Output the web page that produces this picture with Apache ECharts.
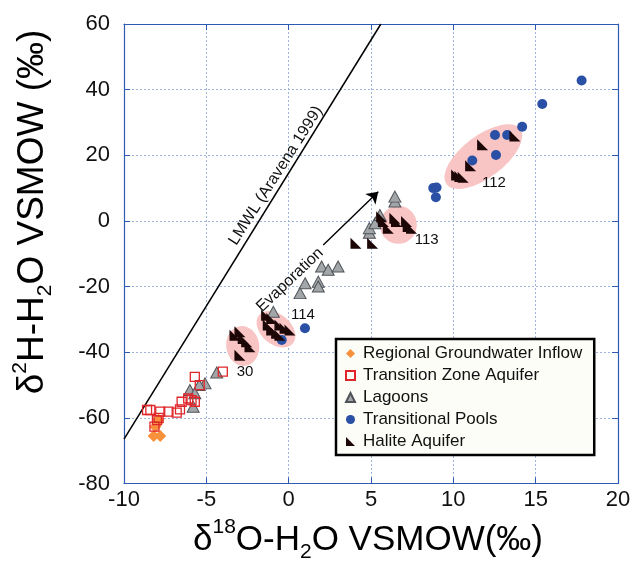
<!DOCTYPE html>
<html>
<head>
<meta charset="utf-8">
<script src="https://cdn.jsdelivr.net/npm/echarts@6/dist/echarts.min.js"></script>
<style>
  html, body { margin: 0; padding: 0; background: #fff; }
  #chart { width: 635px; height: 567px; }
</style>
</head>
<body>
<div id="chart"></div>
<script>
// values, [d18O, d2H]
var regionalInflow = [[-8.2, -65.5], [-7.8, -65.5], [-7.9, -60.5], [-8.1, -62.7], [-7.95, -61.5]];
var transitionZone = [
  [-5.7, -47.5], [-5.4, -50.0], [-4.0, -45.9], [-8.4, -57.6], [-8.6, -57.6],
  [-7.8, -58.1], [-7.3, -58.1], [-6.8, -58.4], [-6.6, -57.4], [-6.5, -55.1],
  [-6.1, -54.1], [-5.7, -55.1], [-5.9, -54.6], [-8.0, -60.7], [-8.15, -62.7], [-7.9, -60.0]
];
var lagoons = [
  [-4.37, -46.2], [-5.08, -49.5], [-5.43, -50.0], [-6.0, -51.5], [-5.7, -52.5], [-5.8, -56.6],
  [-0.93, -27.7], [0.69, -22.0], [1.0, -19.0], [1.8, -18.5], [1.8, -20.0],
  [2.0, -13.9], [2.4, -14.9], [3.0, -13.9],
  [4.9, -3.6], [4.9, -2.2], [5.24, -0.7], [5.54, 1.8], [6.45, 5.9], [6.45, 7.4]
];
var transitionalPools = [
  [-0.42, -36.3], [0.99, -32.7], [8.78, 10.0], [8.98, 10.2], [8.94, 7.2],
  [11.15, 18.4], [12.59, 20.1], [12.53, 26.2], [13.27, 26.2], [14.18, 28.7],
  [15.4, 35.6], [17.79, 42.8]
];
var haliteAquifer = [
  [-3.26, -34.8], [-2.96, -33.8], [-2.76, -35.8], [-2.55, -36.8], [-2.35, -38.3], [-2.96, -40.9],
  [-1.34, -28.7], [-1.03, -29.7], [-1.24, -31.7], [-1.03, -33.2], [-0.53, -31.7],
  [-0.22, -32.7], [0.08, -33.2], [-0.73, -34.2], [-0.53, -34.8],
  [4.09, -6.8], [5.1, -6.8],
  [5.65, 1.3], [5.75, -0.2], [6.05, -2.2], [6.45, 0.8], [6.55, -0.2], [7.16, -0.2], [7.26, -1.7], [7.46, -2.2],
  [10.2, 14.0], [10.4, 13.5], [10.6, 13.3], [11.05, 16.8], [11.78, 23.2], [13.74, 25.9]
];
var lmwl = [[-10, -66.5], [5.6, 60]];
var evaporation = [[2.1, -7.3], [5.44, 8.9]];
var clusterNames = ['30', '114', '113', '112'];
var clusterCentres = [[-2.79, -38.1], [-0.77, -33.0], [6.66, -1.2], [11.82, 19.6]];
var clusterLabelAt = [[-2.65, -45.9], [0.87, -28.7], [8.38, -5.8], [12.47, 11.6]];
var xTicks = { min: -10, max: 20, step: 5 };
var yTicks = { min: -80, max: 60, step: 20 };

var FONT = 'Liberation Sans, Arial, sans-serif';
var AXIS_BLUE = '#2d5bb3';
var chart = echarts.init(document.getElementById('chart'));

// ellipse look per cluster: [w, h] in px and rotation
var ellipseShape = [[33, 40, 8], [44, 30, -40], [37, 38, 0], [92, 42, 37]];

function axisCommon(pos, showLabel, showSplit, range) {
  return {
    type: 'value', position: pos, min: range.min, max: range.max, interval: range.step,
    axisLine: { show: true, onZero: false, lineStyle: { color: AXIS_BLUE, width: 1.2 } },
    axisTick: { show: true, inside: true, length: 6, lineStyle: { color: AXIS_BLUE } },
    axisLabel: { show: showLabel, fontSize: 22, color: '#111', fontFamily: FONT, margin: pos === 'left' ? 14 : 5 },
    splitLine: { show: showSplit, lineStyle: { color: '#9fb4dd', type: [2, 2], width: 1 } }
  };
}

function titleRich(size) {
  return {
    a: { fontSize: size, fontFamily: FONT, color: '#111', lineHeight: 46 },
    sup: { fontSize: 21, fontFamily: FONT, color: '#111', verticalAlign: 'top', lineHeight: 20 },
    sub: { fontSize: 21, fontFamily: FONT, color: '#111', verticalAlign: 'bottom', lineHeight: 20 }
  };
}

var textLabel = { show: true, position: 'inside', formatter: '{b}', color: '#111', fontFamily: FONT };

chart.setOption({
  animation: false,
  grid: { left: 124, right: 17, top: 24, bottom: 83.5 },
  xAxis: [axisCommon('bottom', true, true, xTicks), axisCommon('top', false, false, xTicks)],
  yAxis: [axisCommon('left', true, true, yTicks), axisCommon('right', false, false, yTicks)],
  legend: {
    data: ['Regional Groundwater Inflow', 'Transition Zone Aquifer', 'Lagoons', 'Transitional Pools', 'Halite Aquifer'],
    orient: 'vertical', left: 336, top: 339,
    backgroundColor: '#fdfdf8', borderColor: '#000', borderWidth: 2.5,
    padding: [6, 12, 5, 9], itemWidth: 9, itemHeight: 9, itemGap: 5,
    textStyle: { fontSize: 17, color: '#111', fontFamily: FONT, padding: [0, 0, 0, 3] }
  },
  graphic: [
    { type: 'text', x: 368, y: 540, style: { text: '{a|δ}{sup|18}{a|O-H}{sub|2}{a|O VSMOW(‰)}', rich: titleRich(35), align: 'center', verticalAlign: 'middle' } },
    { type: 'text', x: 33, y: 212, rotation: Math.PI / 2, style: { text: '{a|δ}{sup|2}{a|H-H}{sub|2}{a|O VSMOW (‰)}', rich: titleRich(37), align: 'center', verticalAlign: 'middle' } }
  ],
  series: [
    {
      type: 'scatter', silent: true, z: 1, symbol: 'circle',
      itemStyle: { color: '#f9c4c4', opacity: 1 },
      data: clusterCentres.map(function (c, i) {
        return { value: c, symbolSize: [ellipseShape[i][0], ellipseShape[i][1]], symbolRotate: ellipseShape[i][2] };
      })
    },
    {
      type: 'line', silent: true, z: 2, data: lmwl, symbol: 'none',
      lineStyle: { color: '#000', width: 1.5 }
    },
    {
      type: 'lines', coordinateSystem: 'cartesian2d', silent: true, z: 2,
      symbol: ['none', 'arrow'], symbolSize: 11,
      lineStyle: { color: '#000', width: 1.4, opacity: 1 },
      data: [{ coords: evaporation }]
    },
    {
      name: 'Regional Groundwater Inflow', type: 'scatter', z: 4, symbol: 'diamond', symbolSize: 12,
      itemStyle: { color: '#f7913c', opacity: 1 }, data: regionalInflow
    },
    {
      name: 'Transition Zone Aquifer', type: 'scatter', z: 5, symbol: 'rect', symbolSize: 9,
      itemStyle: { color: 'rgba(255,255,255,0)', borderColor: '#e0262a', borderWidth: 1.3, opacity: 1 }, data: transitionZone
    },
    {
      name: 'Lagoons', type: 'scatter', z: 4, symbol: 'triangle', symbolSize: [12, 11],
      itemStyle: { color: '#a2a6a9', borderColor: '#4f5357', borderWidth: 1, opacity: 1 }, data: lagoons
    },
    {
      name: 'Transitional Pools', type: 'scatter', z: 4, symbol: 'circle', symbolSize: 10,
      itemStyle: { color: '#2950a5', opacity: 1 }, data: transitionalPools
    },
    {
      name: 'Halite Aquifer', type: 'scatter', z: 6, symbol: 'path://M0,0 L0,10 L10,10 Z', symbolSize: 11,
      itemStyle: { color: '#1c0606', opacity: 1 }, data: haliteAquifer
    },
    {
      type: 'scatter', silent: true, z: 7, symbolSize: 0, itemStyle: { opacity: 1 },
      label: Object.assign({ fontSize: 15 }, textLabel),
      data: clusterNames.map(function (n, i) { return { name: n, value: clusterLabelAt[i] }; })
    },
    {
      type: 'scatter', silent: true, z: 7, symbolSize: 0, itemStyle: { opacity: 1 },
      label: Object.assign({ fontSize: 16, rotate: 57.5 }, textLabel),
      data: [{ name: 'LMWL (Aravena 1999)', value: [-0.79, 13.8] }]
    },
    {
      type: 'scatter', silent: true, z: 7, symbolSize: 0, itemStyle: { opacity: 1 },
      label: Object.assign({ fontSize: 16, rotate: 43.5 }, textLabel),
      data: [{ name: 'Evaporation', value: [0.08, -18.0] }]
    }
  ]
});
window.addEventListener('resize', function () { chart.resize(); });
</script>
</body>
</html>
